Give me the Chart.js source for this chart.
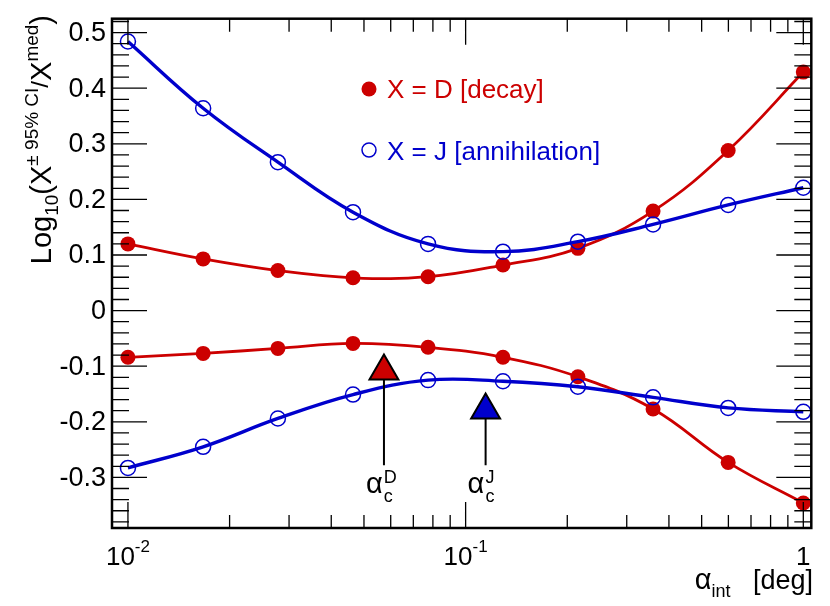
<!DOCTYPE html>
<html>
<head>
<meta charset="utf-8">
<script src="https://cdn.jsdelivr.net/npm/chart.js@4"></script>
<style>
  html, body { margin: 0; padding: 0; background: #fff; }
  canvas { display: block; }
</style>
</head>
<body>
<canvas id="chart" width="830" height="606"></canvas>
<script>
// data
const alphaInt = [0.01, 0.0167, 0.0278, 0.0464, 0.0774, 0.129, 0.215, 0.359, 0.599, 1.0];
const decayUpper = [0.120, 0.093, 0.072, 0.059, 0.061, 0.082, 0.112, 0.179, 0.288, 0.429];
const decayLower = [-0.084, -0.077, -0.068, -0.059, -0.066, -0.084, -0.119, -0.177, -0.273, -0.346];
const annihUpper = [0.484, 0.364, 0.267, 0.177, 0.120, 0.106, 0.124, 0.155, 0.190, 0.221];
const annihLower = [-0.283, -0.245, -0.194, -0.151, -0.125, -0.127, -0.137, -0.156, -0.175, -0.182];

// critical angles (arrows)
const alphaCritD = 0.0573;
const alphaCritJ = 0.1146;
const arrowHeadD = -0.109;
const arrowHeadJ = -0.179;
const arrowTail = -0.278;

const yTicks = [-0.3, -0.2, -0.1, 0, 0.1, 0.2, 0.3, 0.4, 0.5];
const yTickLabels = ['-0.3', '-0.2', '-0.1', '0', '0.1', '0.2', '0.3', '0.4', '0.5'];
const xTicks = [0.01, 0.1, 1];
const xTickLabels = [['10', '-2'], ['10', '-1'], ['1', '']];

const RED = '#cc0000';
const BLUE = '#0000cc';
const FONT = '"Liberation Sans", Arial, Helvetica, sans-serif';

const toXY = (ys) => ys.map((y, i) => ({ x: alphaInt[i], y: y }));

const lineSet = (ys, color, filled) => ({
    data: toXY(ys),
    borderColor: color,
    borderWidth: filled ? 2.8 : 3.4,
    tension: 0.4,
    pointRadius: 7.5,
    pointBackgroundColor: filled ? color : 'rgba(0,0,0,0)',
    pointBorderColor: color,
    pointBorderWidth: filled ? 0 : 1.5
});

const arrowSet = (x, head, color) => ({
    data: [{ x: x, y: arrowTail }, { x: x, y: head }],
    borderColor: '#000',
    borderWidth: 2,
    tension: 0,
    pointStyle: 'triangle',
    pointRadius: [0, 16.7],
    pointBackgroundColor: color,
    pointBorderColor: '#000',
    pointBorderWidth: 2
});

// draws a run of text pieces: {t, size, dy}
function runWidth(ctx, parts) {
    let w = 0;
    parts.forEach(p => {
        ctx.font = p.size + 'px ' + FONT;
        w += ctx.measureText(p.t).width;
    });
    return w;
}
function drawRun(ctx, parts, x, y, align) {
    const w = runWidth(ctx, parts);
    let cx = x;
    if (align === 'center') cx = x - w / 2;
    if (align === 'right') cx = x - w;
    ctx.textAlign = 'left';
    ctx.textBaseline = 'alphabetic';
    parts.forEach(p => {
        ctx.font = p.size + 'px ' + FONT;
        ctx.fillText(p.t, cx, y + (p.dy || 0));
        cx += ctx.measureText(p.t).width;
    });
}

const framePlugin = {
    id: 'rootFrame',
    afterDraw(chart) {
        const ctx = chart.ctx;
        const a = chart.chartArea;
        const xs = chart.scales.x;
        const ys = chart.scales.y;
        ctx.save();
        ctx.fillStyle = '#000';
        ctx.strokeStyle = '#000';

        // ticks
        ctx.lineWidth = 1.3;
        ctx.beginPath();
        for (let v = -0.38; v <= 0.521; v += 0.02) {
            const vv = Math.round(v * 100) / 100;
            const py = ys.getPixelForValue(vv);
            const major = Math.abs(Math.round(vv * 10) - vv * 10) < 1e-6;
            const len = major ? 35 : 17;
            ctx.moveTo(a.left, py); ctx.lineTo(a.left + len, py);
            ctx.moveTo(a.right, py); ctx.lineTo(a.right - len, py);
        }
        [0.01, 0.1].forEach(dec => {
            for (let m = 1; m <= 10; m++) {
                const v = dec * m;
                if (v > 1.0001 && m > 1) continue;
                const px = xs.getPixelForValue(v);
                const len = (m === 1 || m === 10) ? 26 : 13;
                ctx.moveTo(px, a.bottom); ctx.lineTo(px, a.bottom - len);
                ctx.moveTo(px, a.top); ctx.lineTo(px, a.top + len);
            }
        });
        ctx.stroke();

        // frame
        ctx.lineWidth = 2.5;
        ctx.strokeRect(a.left, a.top, a.right - a.left, a.bottom - a.top);

        // y tick labels
        ctx.font = '27px ' + FONT;
        ctx.textAlign = 'right';
        ctx.textBaseline = 'middle';
        yTicks.forEach((v, i) => {
            ctx.fillText(yTickLabels[i], 106, ys.getPixelForValue(v) + 1);
        });

        // x tick labels
        xTicks.forEach((v, i) => {
            const [base, exp] = xTickLabels[i];
            const parts = [{ t: base, size: 26 }];
            if (exp) parts.push({ t: exp, size: 17, dy: -13 });
            drawRun(ctx, parts, xs.getPixelForValue(v), 565, 'center');
        });

        // x axis title
        drawRun(ctx, [
            { t: 'α', size: 29 },
            { t: 'int', size: 18, dy: 8 },
            { t: '   [deg]', size: 27 }
        ], 813, 589, 'right');

        // y axis title
        ctx.save();
        ctx.translate(51, 15);
        ctx.rotate(-Math.PI / 2);
        drawRun(ctx, [
            { t: 'Log', size: 29 },
            { t: '10', size: 19, dy: 7 },
            { t: '(X', size: 29 },
            { t: '± 95% CI', size: 19, dy: -13 },
            { t: '/', size: 24, dy: -3 },
            { t: 'X', size: 29 },
            { t: 'med', size: 19, dy: -13 },
            { t: ')', size: 29 }
        ], 0, 0, 'right');
        ctx.restore();

        // critical angle labels
        [[alphaCritD, 'D'], [alphaCritJ, 'J']].forEach(([v, sup]) => {
            const px = xs.getPixelForValue(v);
            ctx.font = '29px ' + FONT;
            ctx.textAlign = 'left';
            ctx.textBaseline = 'alphabetic';
            const aw = ctx.measureText('α').width;
            const x0 = px - 18;
            ctx.fillText('α', x0, 493);
            ctx.font = '18px ' + FONT;
            ctx.fillText(sup, x0 + aw + 1, 483);
            ctx.fillText('c', x0 + aw + 1, 502);
        });

        // legend
        ctx.fillStyle = RED;
        ctx.beginPath();
        ctx.arc(369, 89, 7.5, 0, Math.PI * 2);
        ctx.fill();
        ctx.font = '26px ' + FONT;
        ctx.textAlign = 'left';
        ctx.textBaseline = 'middle';
        ctx.fillText('X = D [decay]', 387, 91);

        ctx.strokeStyle = BLUE;
        ctx.lineWidth = 1.5;
        ctx.beginPath();
        ctx.arc(369, 150, 7, 0, Math.PI * 2);
        ctx.stroke();
        ctx.fillStyle = BLUE;
        ctx.fillText('X = J [annihilation]', 387, 153);

        ctx.restore();
    }
};

new Chart(document.getElementById('chart'), {
    type: 'line',
    data: {
        datasets: [
            arrowSet(alphaCritD, arrowHeadD, RED),
            arrowSet(alphaCritJ, arrowHeadJ, BLUE),
            lineSet(annihUpper, BLUE, false),
            lineSet(annihLower, BLUE, false),
            lineSet(decayUpper, RED, true),
            lineSet(decayLower, RED, true)
        ]
    },
    options: {
        responsive: false,
        devicePixelRatio: 1,
        animation: false,
        layout: { padding: { left: 112, right: 16, top: 17, bottom: 78 } },
        plugins: { legend: { display: false }, tooltip: { enabled: false } },
        scales: {
            x: { type: 'logarithmic', min: 0.00897, max: 1.056, display: false },
            y: { type: 'linear', min: -0.391, max: 0.525, display: false }
        }
    },
    plugins: [framePlugin]
});
</script>
</body>
</html>
